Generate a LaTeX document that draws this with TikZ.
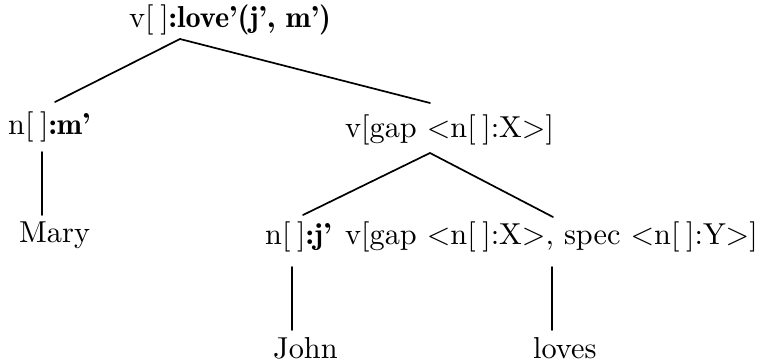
\documentclass[tikz,border=0pt]{standalone}
\usetikzlibrary{calc}
\newcommand{\bigtext}[1]{\scalebox{3.03}{\fontsize{10}{12}\selectfont #1}}
\newcommand{\sem}[1]{{\fontseries{b}\selectfont #1}}
\newcommand{\nil}{[\hspace{2.2pt}]}
\begin{document}
\begin{tikzpicture}[x=1pt,y=-1pt,
  lbl/.style={anchor=base west,inner sep=0pt},
  branch/.style={line width=1.7pt,line cap=round}]
\useasboundingbox (0,0) rectangle (765,363);
% nodes of the derivation tree
\node[lbl] (root)  at (129,28)  {\bigtext{v\nil\sem{:love'(j', m')}}};
\node[lbl] (nm)    at (8,135)   {\bigtext{n\nil\sem{:m'}}};
\node[lbl] (vgap)  at (345,138) {\bigtext{v[gap <n\nil:X>]}};
\node[lbl] (mary)  at (19,243)  {\bigtext{Mary}};
\node[lbl] (nj)    at (265,245) {\bigtext{n\nil\sem{:j'}}};
\node[lbl] (vspec) at (345,245) {\bigtext{v[gap <n\nil:X>, spec <n\nil:Y>]}};
\node[lbl] (john)  at (273,358) {\bigtext{John}};
\node[lbl] (loves) at (533,358) {\bigtext{loves}};
% branch attachment points
\coordinate (rootfoot)  at ($(root.base west)+(51,11)$);
\coordinate (nmhead)    at ($(nm.base west)+(47,-33)$);
\coordinate (nmfoot)    at ($(nm.base west)+(34,17)$);
\coordinate (vgaphead)  at ($(vgap.base west)+(85,-35)$);
\coordinate (vgapfoot)  at ($(vgap.base west)+(85,15)$);
\coordinate (maryhead)  at ($(mary.base west)+(23,-28)$);
\coordinate (njhead)    at ($(nj.base west)+(38,-30)$);
\coordinate (njfoot)    at ($(nj.base west)+(27,22)$);
\coordinate (vspechead) at ($(vspec.base west)+(208,-28)$);
\coordinate (vspecfoot) at ($(vspec.base west)+(207,22)$);
\coordinate (johnhead)  at ($(john.base west)+(19,-28)$);
\coordinate (loveshead) at ($(loves.base west)+(19,-28)$);
% branches
\draw[branch] (rootfoot) -- (nmhead);
\draw[branch] (rootfoot) -- (vgaphead);
\draw[branch] (nmfoot) -- (maryhead);
\draw[branch] (vgapfoot) -- (njhead);
\draw[branch] (vgapfoot) -- (vspechead);
\draw[branch] (njfoot) -- (johnhead);
\draw[branch] (vspecfoot) -- (loveshead);
\end{tikzpicture}
\end{document}
